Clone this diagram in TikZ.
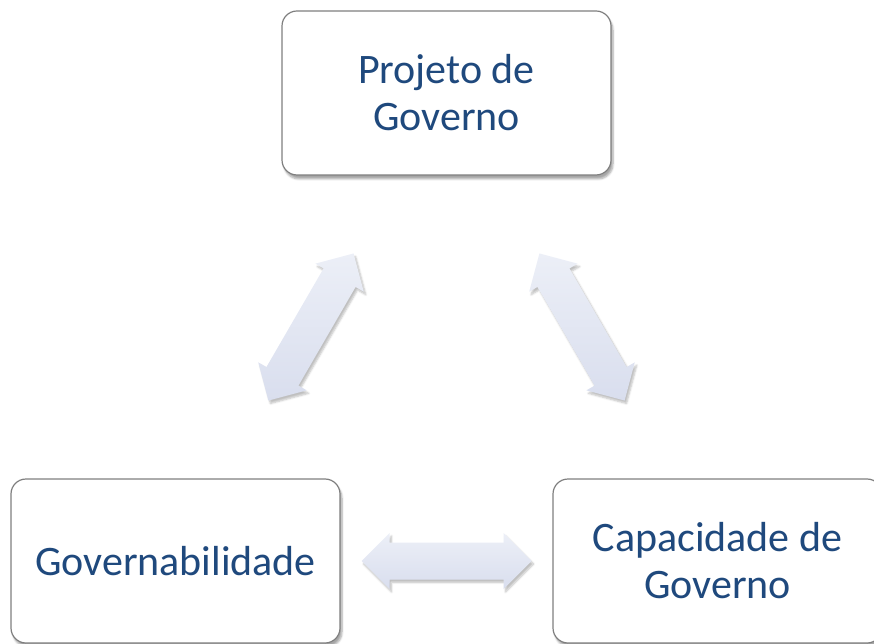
\documentclass[tikz,border=0pt]{standalone}
\usepackage{fontspec}
\setmainfont{Carlito}
\usetikzlibrary{calc, shadows.blur}
\definecolor{govtext}{HTML}{1F497D}
\definecolor{govline}{HTML}{7F7F7F}
\definecolor{arrowtop}{HTML}{ECEFF7}
\definecolor{arrowbot}{HTML}{D9DEEE}
\tikzset{
govbox/.style={draw=govline, line width=1.2pt, fill=white, rounded corners=15pt,
  minimum width=329pt, minimum height=164pt, align=center, text=govtext,
  font=\fontsize{42}{47}\selectfont,
  blur shadow={shadow xshift=2pt, shadow yshift=-4pt, shadow blur steps=6, shadow opacity=35}},
govarrow/.style={top color=arrowtop, bottom color=arrowbot, draw=none,
  blur shadow={shadow xshift=2pt, shadow yshift=-3pt, shadow blur steps=5, shadow opacity=25}}
}
% block arrow in the middle of the line between two boxes
\newcommand{\govlink}[2]{
  \path[govarrow] let \p1=(#1.center), \p2=(#2.center), \n1={atan2(\y2-\y1,\x2-\x1)} in
    [shift={($(\p1)!0.5!(\p2)$)}, rotate=\n1]
    (-85,0) -- (-57,28) -- (-57,18.5) -- (57,18.5) -- (57,28) -- (85,0)
    -- (57,-28) -- (57,-18.5) -- (-57,-18.5) -- (-57,-28) -- cycle;
}
\begin{document}
\begin{tikzpicture}[x=1pt, y=1pt]
  \useasboundingbox (0,0) rectangle (874,643);
  \node[govbox] (projeto) at (446.5,550) {Projeto de\\Governo};
  \node[govbox] (governab) at (175.5,82) {Governabilidade};
  \node[govbox] (capacid) at (717.5,82) {Capacidade de\\Governo};
  \govlink{governab}{projeto}
  \govlink{projeto}{capacid}
  \govlink{governab}{capacid}
\end{tikzpicture}
\end{document}
